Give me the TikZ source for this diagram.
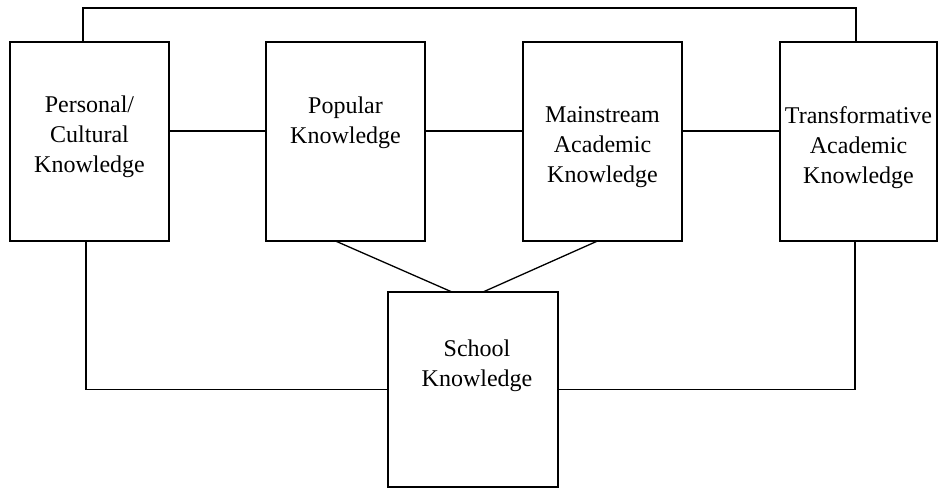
\documentclass[tikz,border=0pt]{standalone}
\usepackage{fontspec}
\setmainfont{Liberation Serif}
\usetikzlibrary{positioning,calc}

\begin{document}
\begin{tikzpicture}[x=1pt,y=-1pt, node distance=97pt and 97pt, line width=1.3pt,
  every node/.style={font=\fontsize{24}{30}\selectfont},
  kbox/.style={draw,minimum width=159pt,minimum height=199pt,inner sep=0pt,outer sep=0pt},
  ktxt/.style={align=center,inner sep=0pt}]
  \useasboundingbox (0,0) rectangle (939,488);
  \node[kbox] (pers) at (89.5,141.5) {};
  \node[kbox,right=97pt of pers] (pop) {};
  \node[kbox,right=98pt of pop] (main) {};
  \node[kbox,right=98pt of main,minimum width=157pt] (trans) {};
  \node[kbox,minimum width=170pt,minimum height=195pt] (school) at (473,389.5) {};
  \node[ktxt] (pers-t) at ($(pers.center)+(0,-5)$) {Personal/\\Cultural\\Knowledge};
  \node[ktxt] (pop-t) at ($(pop.center)+(0,-19)$) {Popular\\Knowledge};
  \node[ktxt] (main-t) at ($(main.center)+(0,6)$) {Mainstream\\Academic\\Knowledge};
  \node[ktxt] (trans-t) at ($(trans.center)+(0,6)$) {Transformative\\Academic\\Knowledge};
  \node[ktxt] (school-t) at ($(school.center)+(4,-24)$) {School\\Knowledge};
  \draw ([yshift=10.5pt]pers.east)--([yshift=10.5pt]pop.west); \draw ([yshift=10.5pt]pop.east)--([yshift=10.5pt]main.west);
  \draw ([yshift=10.5pt]main.east)--([yshift=10.5pt]trans.west);
  \draw ([xshift=-6.5pt]pers.north) -- ++(0,-34) -| ([xshift=-2.5pt]trans.north);
  \draw ([xshift=-3.5pt]pers.south) |- (school.west); \draw (school.east) -| ([xshift=-3.5pt]trans.south);
  \draw ([xshift=-10pt]pop.south)--([xshift=-21pt]school.north); \draw ([xshift=-5pt]main.south)--([xshift=10pt]school.north);
\end{tikzpicture}
\end{document}
